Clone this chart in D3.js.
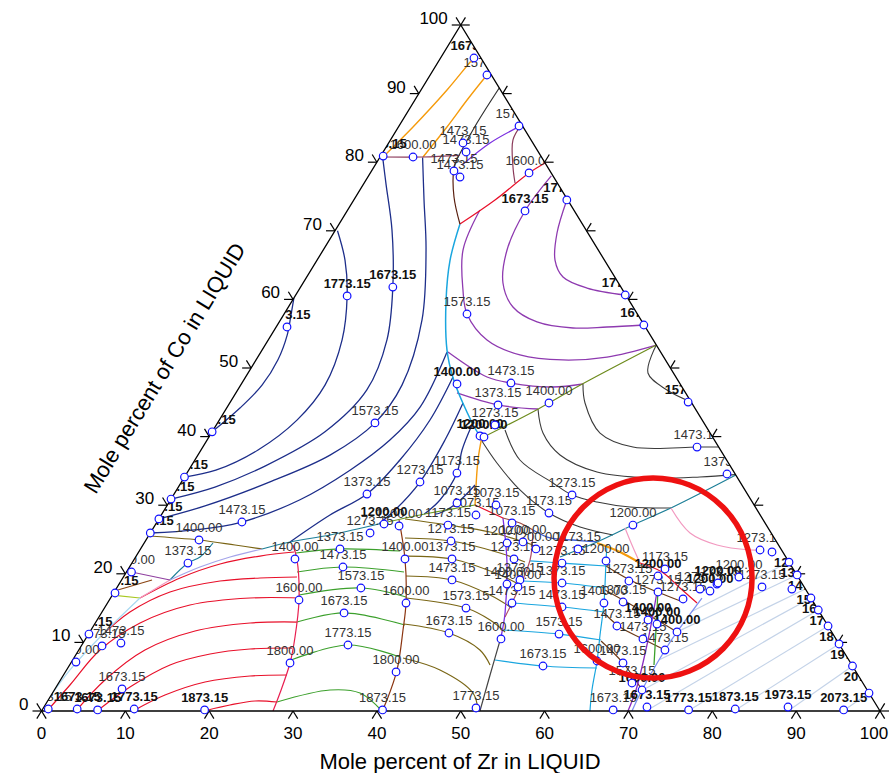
<!DOCTYPE html>
<html><head><meta charset="utf-8">
<script src="https://cdn.jsdelivr.net/npm/d3@7"></script>
<style>body{margin:0;background:#fff}svg{display:block;font-family:"Liberation Sans",Arial,sans-serif}</style>
</head><body>
<svg id="chart" width="890" height="773"></svg>
<script>
// Axis ticks (mole percent)
const zrTicks = d3.range(0, 101, 10);
const coTicks = d3.range(0, 101, 10);

// Liquidus isotherms and univariant lines; every point is [Zr %, Co %]
const navyIsotherms = [
  [[0,40.7],[1.6,44.2],[2.55,47.5],[2.6,51.2],[1.9,54.8],[0.9,57.7],[0,60.2]],
  [[0.3,70],[3.35,65.7],[6.2,60.5],[8.8,54.1],[10.06,47.5],[9.27,42.4],[6.8,38.05],[3.24,35.1],[0,34.1]],
  [[0.4,80.6],[2.75,76.7],[6.75,70.1],[11.0,61.8],[14.15,54.1],[15.4,46.8],[13.46,40.7],[8.8,35.7],[4.36,32.65],[0,30.9]],
  [[5.1,80.7],[8.37,74.5],[12.26,67.2],[16.88,57.0],[19.24,47.5],[18.77,42.0],[15.76,37.3],[10.55,33.4],[4.55,29.9],[0,28.0]],
  [[22.2,52.3],[23.0,44.3],[21.8,39.5],[19.24,35.1],[15.43,30.8],[10.13,27.55],[5.1,26.4],[0,25.95]],
  [[24.73,48.69],[25.12,42.42],[24.45,36.59],[23.0,31.63],[20.12,28.57],[17.32,24.64]],
  [[27.82,44.9],[28.37,39.5],[28.45,33.38],[27.51,29.3],[26.6,27.3]],
  [[30.49,41.69],[31.13,38.05],[32.2,34.69],[32.14,30.76],[31.3,28.7]],
  [[35.23,32.94],[34.39,30.32],[33.09,28.86],[32.6,28.7]]
];
const purpleIsotherms = [
  [[25.4,74.5],[26.64,69.68],[28.37,65.74],[30.56,63.27],[34.23,61.66],[39.3,60.64]],
  [[21.8,78.0],[21.22,72.89],[21.92,67.2],[23.84,62.39],[26.78,58.89],[30.74,56.71],[35.47,55.83],[39.45,55.98],[43.7,56.27]],
  [[15.77,73.03],[16.67,67.2],[19.58,61.37],[21.81,57.87],[26.09,54.08],[31.11,51.9],[36.6,51.17],[41.64,51.6],[46.65,53.35]],
  [[22.31,52.33],[28.79,48.69],[32.08,47.81],[37.38,47.23],[40.74,47.67]],
  [[26.37,46.36],[32.14,44.61],[37.2,44.02]]
];
const blackIsotherms = [
  [[40.74,47.67],[42.37,44.9],[46.35,40.52],[51.3,38.48],[58.94,38.48],[61.52,38.48]],
  [[46.65,53.35],[47.69,49.27],[51.2,46.79],[54.96,45.04]],
  [[37.2,44.02],[39.55,40.52],[43.18,37.32],[48.83,34.84],[55.59,33.97],[61.47,34.11],[65.5,34.45]],
  [[34.8,40.96],[38.76,36.59],[44.38,33.24],[47.53,31.49],[51.02,30.47],[55.31,29.74],[60.27,29.59]],
  [[32.7,39.5],[36.24,36.15],[40.95,32.22],[46.09,28.86],[50.81,26.82],[55.33,25.66]]
];
const redIsotherms = [
  [[3.51,16.47],[6.83,19.39],[10.58,21.43],[14.76,22.59],[18.52,23.18]],
  [[1.59,10.79],[3.33,14.43],[6.65,17.35],[11.81,18.95],[16.37,19.39],[20.7,19.53]],
  [[0.66,0],[1.5,3.79],[2.53,8.89],[5.34,12.83],[9.98,15.45],[16.63,16.47],[22.47,16.47]],
  [[4.11,0],[5.31,4.52],[7.89,8.89],[12.48,11.66],[18.46,12.83],[23.98,12.97]],
  [[6.62,0],[8.8,3.5],[11.97,6.71],[15.95,8.31],[20.35,9.04],[25.29,9.18]],
  [[10.91,0],[13.56,2.33],[17.39,4.23],[22.32,5.1],[26.66,5.25]],
  [[19.38,0],[22.04,0.87],[24.73,1.46],[27.43,1.31]]
];
const greenIsotherms = [
  [[18.83,23.03],[23.79,23.62],[31.09,23.32]],
  [[20.34,20.26],[25.46,20.99],[33.1,20.26]],
  [[22.25,16.91],[29.13,17.93],[35.16,16.62]],
  [[23.98,12.97],[28.94,14.29],[37.08,12.54]],
  [[26.04,7.43],[31.74,9.62],[38.81,7.87]],
  [[27.43,1.31],[32.88,3.06],[36.67,2.62],[40.6,0]]
];
const oliveBrownIsotherms = [
  [[29.36,27.99],[34.92,27.11],[40.44,26.09],[46.52,24.2]],
  [[30.74,25.22],[36.45,24.78],[43.16,23.03],[46.8,21.72]],
  [[32.05,22.59],[37.88,22.16],[44.77,19.83],[47.88,18.37]],
  [[33.63,19.68],[39.41,19.1],[45.03,16.91],[48.6,15.01]],
  [[35.23,16.47],[43.12,15.01],[46.86,13.27],[49.52,11.52]],
  [[36.89,12.68],[42.91,11.37],[47.84,8.89],[50.14,6.71]],
  [[39.25,7.73],[44.53,5.98],[50.15,2.62],[52.06,0]]
];
const cyanIsotherms = [
  [[47.33,21.87],[51.29,21.57],[56.75,21.14]],
  [[47.82,18.95],[52.75,18.66],[58.23,17.93]],
  [[48.24,15.74],[54.5,15.16],[59.86,14.43]],
  [[49.14,11.81],[56.11,11.22],[61.56,10.35]],
  [[50.36,7.43],[56.53,6.56],[63.12,6.27]]
];
const brownIsotherms = [
  [[56.75,21.14],[60.63,19.1],[65.16,17.2],[68.57,15.89]],
  [[58.38,17.64],[62.38,15.6],[66.77,13.27],[70.03,11.52]],
  [[59.94,14.29],[62.87,12.24],[66.48,10.5],[69.91,8.89]],
  [[61.63,10.2],[65.85,7.0],[70.09,3.06]]
];
const hatchIsotherms = [
  [[95.59,0],[97.38,2.62]],
  [[89.03,0],[93.44,6.56]],
  [[82.59,0],[90.23,9.77]],
  [[77.1,0],[87.61,12.39]],
  [[72.09,0],[85.28,14.72]],
  [[70.1,3],[83.53,16.47]],
  [[70.0,7.5],[82.2,17.78]],
  [[70.0,11.5],[80.17,19.83]],
  [[70.3,14.5],[78.28,21.72]]
];

// univariant (phase boundary) lines
const cyanBoundary = [[14.41,70.99],[15.87,65.7],[18.3,59.9],[22.06,52.6],[24.7,48.7],[27.8,44.9],[31.8,40.5],[32.6,39.8]];
const cyanBoundary2 = [[55.34,24.2],[56.39,21.87],[59.21,15.74],[61.07,11.08],[62.61,7.29],[64.12,3.06],[65.41,0]];
const oliveBoundary = [[32.6,39.8],[37.2,44.0],[40.7,47.7],[46.65,53.35]];
const orangeBoundary = [[32.6,39.8],[33.76,36.6],[36.69,30.03]];
const orangeTop1 = [[0.35,80.76],[1.74,85.13],[3.1,90.52],[3.89,94.9],[4.08,95.48]];
const orangeTop2 = [[5.12,80.76],[5.79,85.13],[6.22,89.07],[6.77,92.71],[6.85,93.15]];
const orangeInner = [[54.01,24.49],[57.4,23.18],[60.59,21.57]];
const blackTop = [[9.32,80.47],[9.08,85.71],[9.18,90.82]];
const violetTop = [[10.35,79.59],[12.09,82.8],[14.6,85.4]];
const maroonTop = [[0.35,80.76],[5.12,80.76],[9.4,81.0]];
const maroonRight = [[14.5,85.4],[14.61,83.24],[16.58,79.3],[17.99,76.97]];
const redTop = [[20.12,79.88],[18.93,78.43],[16.84,74.49],[14.41,70.99]];
const darkBrownTop = [[9.32,80.47],[9.61,79.15],[11.73,74.93],[14.41,70.99]];
const redMid = [[36.69,30.03],[40.97,28.13]];
const redInner = [[60.59,21.57],[63.87,20.26],[67.18,17.93],[70.31,15.74]];
const violetMid = [[40.97,28.13],[44.73,21.57],[48.14,14.29],[49.41,10.79]];
const violetInner = [[64.73,17.35],[67.16,10.35],[69.37,3.06],[69.94,0]];
const grayMid = [[49.41,10.79],[50.87,5.25],[52.29,0]];
const maroonMid = [[40.97,28.13],[43.36,27.41],[45.43,26.38]];
const blueMid = [[45.43,26.38],[48.03,25.22],[50.93,24.93],[53.93,24.64]];
const mauveMid = [[45.43,26.38],[47.26,22.01],[48.01,17.64],[48.43,13.7]];
const tealRight = [[65.6,34.4],[60.44,29.74],[56.98,27.11],[53.93,24.64],[51.51,23.03],[50.62,22.45]];
const pinkRight = [[60.27,29.59],[64.37,25.95],[68.46,24.2],[72.77,23.47],[73.96,23.47]];
const pinkInner = [[56.25,26.68],[58.32,24.2],[60.59,21.57]];
const greenInner = [[64.7,17.64],[67.38,11.81],[69.69,6.71]];
const lilacBoundary = [[70.53,16.47],[70.03,11.52],[69.92,8.89],[70.09,3.06],[70.42,0]];
const oliveGreenLow = [[27.03,27.41],[31.9,28.86],[36.69,30.03]];
const tealLow = [[14.49,23.62],[17.32,24.64],[21.58,25.66],[27.03,27.41]];
const oliveBrownLow = [[0,25.51],[6.32,24.93],[10.98,24.2],[14.49,23.62]];
const lavenderLow = [[14.49,23.62],[11.26,22.45],[8.4,20.99],[5.77,19.1]];
const tealLow2 = [[8.21,24.49],[7.68,22.45],[6.68,21.57],[5.77,19.1]];
const purpleLow = [[0.6,20.26],[5.77,19.1]];
const brownLow = [[0.2,17.6],[3.63,19.1]];
const limeLow = [[0,16.9],[3.51,16.47]];
const pinkLow = [[5.77,19.1],[3.51,16.47]];
const skyLow = [[3.51,16.47],[1.59,10.79],[0.41,5.98],[0,2.3]];
const crimsonBoundary = [[17.89,24.2],[19.47,22.01],[22.62,16.18],[24.84,10.79],[26.14,7.0],[27.13,2.62],[27.61,0]];
const brownBoundary = [[28.72,27.84],[32.27,22.16],[35.6,15.74],[37.21,11.81],[39.41,5.98],[40.4,1.6],[40.61,0]];

// isotherm labels: [Zr %, Co %, text]
const labels = [
  [6.77,92.71,"1573.15"],[14.31,85.28,"1573.15"],
  [8.87,82.8,"1473.15"],[9.89,81.49,"1473.15"],[9.83,78.72,"1473.15"],[10.99,77.84,"1473.15"],
  [3.93,80.76,"1600.00"],[18.93,78.43,"1600.00"],
  [21.81,57.87,"1573.15"],[32.08,47.81,"1473.15"],[32.14,44.61,"1373.15"],[38.07,44.9,"1400.00"],
  [33.23,41.69,"1273.15"],[58.94,38.48,"1473.15"],[64.48,34.55,"1373.15"],
  [18.77,42.0,"1573.15"],[10.13,27.55,"1473.15"],[23.0,31.63,"1373.15"],[28.45,33.38,"1273.15"],
  [32.2,34.69,"1173.15"],[34.39,30.32,"1073.15"],[39.19,30.03,"1073.15"],[37.53,28.57,"1073.15"],
  [42.41,27.41,"1073.15"],[34.92,27.11,"1173.15"],[36.45,24.78,"1273.15"],[37.88,22.16,"1373.15"],
  [39.41,19.1,"1473.15"],[43.12,15.01,"1573.15"],[42.91,11.37,"1673.15"],[51.6,0.44,"1773.15"],
  [19.15,22.16,"1400.00"],[22.62,16.18,"1600.00"],[26.14,7.0,"1800.00"],
  [32.27,22.16,"1400.00"],[35.6,15.74,"1600.00"],[39.44,5.69,"1800.00"],
  [23.79,23.62,"1373.15"],[25.46,20.99,"1473.15"],[29.13,17.93,"1573.15"],[28.94,14.29,"1673.15"],
  [31.74,9.62,"1773.15"],[40.6,0.15,"1873.15"],
  [26.21,25.95,"1273.15"],[29.16,26.97,"1200.00"],[6.32,24.93,"1400.00"],[6.68,21.57,"1373.15"],
  [0.6,20.26,"1400.00"],[2.48,9.48,"1573.15"],[4.52,9.91,"1473.15"],[0.54,7.14,"1400.00"],
  [8.0,3.21,"1673.15"],[0.66,0.29,"1573.15"],
  [43.28,24.49,"1200.00"],[45.1,24.64,"1200.00"],[45.27,22.16,"1273.15"],[47.51,19.1,"1373.15"],
  [46.26,18.51,"1400.00"],[47.79,18.08,"1400.00"],[48.24,15.74,"1473.15"],[49.55,10.5,"1600.00"],
  [51.29,21.57,"1273.15"],[52.75,18.66,"1373.15"],[54.5,15.16,"1473.15"],[56.11,11.22,"1573.15"],
  [56.53,6.56,"1673.15"],[56.98,27.11,"1200.00"],[47.53,31.49,"1273.15"],[46.09,28.86,"1173.15"],
  [47.16,23.62,"1200.00"],[52.17,23.62,"1173.15"],[56.39,21.87,"1200.00"],[60.58,18.95,"1273.15"],
  [64.01,20.7,"1173.15"],[64.85,17.35,"1273.15"],[68.35,16.33,"1273.15"],
  [69.64,17.78,"1273.15"],[71.3,18.51,"1173.15"],[73.41,19.53,"1200.00"],[76.89,18.08,"1273.15"],
  [59.21,15.74,"1400.00"],[61.41,15.89,"1373.15"],[62.43,12.39,"1473.15"],[66.48,10.5,"1473.15"],
  [69.91,8.89,"1473.15"],[62.61,7.29,"1600.00"],[65.85,7.0,"1473.15"],[68.38,4.08,"1573.15"],
  [68.1,0.15,"1673.15"],[73.96,23.47,"1273.15"]
];
const boldLabels = [
  [3.98,95.19,"1673.15"],[1.29,55.98,"1873.15"],
  [6.2,60.5,"1773.15"],[11.0,61.8,"1673.15"],[21.22,72.89,"1673.15"],[25.72,47.67,"1400.00"],
  [25.4,74.5,"1773.15"],[39.3,60.64,"1773.15"],[43.7,56.27,"1673.15"],
  [32.25,40.09,"1200.00"],[32.8,39.94,"1200.00"],[27.22,27.26,"1200.00"],[54.6,45.04,"1573.15"],
  [0,40.7,"1873.15"],[0,34.1,"1773.15"],[0,30.9,"1673.15"],[0,28.0,"1573.15"],[0,25.95,"1473.15"],
  [0.17,17.2,"1473.15"],[0.05,11.22,"1573.15"],[0.3,80.9,"1673.15"],
  [4.11,0.29,"1673.15"],[6.62,0.15,"1673.15"],[10.91,0.29,"1773.15"],[19.38,0.15,"1873.15"],
  [63.68,19.68,"1200.00"],[70.98,17.49,"1200.00"],[71.35,18.66,"1200.00"],
  [65.7,13.27,"1400.00"],[67.06,12.68,"1400.00"],[70.03,11.52,"1400.00"],[70.09,3.06,"1600.00"],
  [71.92,0.58,"1673.15"],[77.1,0.15,"1773.15"],[82.59,0.29,"1873.15"],[88.74,0.58,"1973.15"],
  [95.59,0.15,"2073.15"]
];
// markers on the Zr-Co edge, labelled just below and inside the edge
const edgeLabels = [
  [93.44,6.56,"2073.15"],[90.23,9.77,"1973.15"],[87.61,12.39,"1873.15"],
  [85.28,14.72,"1773.15"],[83.53,16.47,"1673.15"],[80.6,17.78,"1573.15"],[80.2,19.83,"1473.15"],
  [78.3,21.7,"1373.15"],[75.53,23.18,"1273.15"]
];
const edgeMarkers = [[97.38,2.62]];

const svg = d3.select("#chart");
const x = d3.scaleLinear().domain([0, 100]).range([41.5, 880]);
const y = d3.scaleLinear().domain([0, 100]).range([711, 25]);
const proj = ([zr, co]) => [x(zr + co / 2), y(co)];

const A = proj([0, 0]), B = proj([100, 0]), C = proj([0, 100]);
svg.append("defs").append("clipPath").attr("id", "tri")
  .append("path").attr("d", "M" + [A, B, C].join("L") + "Z");

const plot = svg.append("g").attr("clip-path", "url(#tri)");
const line = d3.line().x(d => proj(d)[0]).y(d => proj(d)[1]).curve(d3.curveCatmullRom.alpha(0.5));

function draw(data, color, w) {
  plot.append("g").selectAll("path").data(data).join("path")
    .attr("d", line).attr("fill", "none").attr("stroke", color)
    .attr("stroke-width", w || 1.2).attr("stroke-linejoin", "round");
}
draw(hatchIsotherms, "#c4d3e8", 1.2);
draw(navyIsotherms, "#1d2e8a", 1.3);
draw(purpleIsotherms, "#8e3ab0", 1.3);
draw(blackIsotherms, "#3a3a3a", 1.1);
draw(redIsotherms, "#e8102a", 1.2);
draw(greenIsotherms, "#3ca02c", 1.2);
draw(oliveBrownIsotherms, "#7a6615", 1.2);
draw(cyanIsotherms, "#1aa6df", 1.2);
draw(brownIsotherms, "#6b3a18", 1.2);
draw([cyanBoundary], "#1aa6df", 1.5);
draw([cyanBoundary2], "#1aa6df", 1.2);
draw([oliveBoundary], "#6e8c1e", 1.2);
draw([orangeBoundary, orangeTop1, orangeTop2], "#f59b0c", 1.4);
draw([orangeInner], "#f59b0c", 2.2);
draw([blackTop], "#333", 1.2);
draw([violetTop, violetMid], "#7b2fe0", 1.3);
draw([violetInner], "#8a2cc0", 1.3);
draw([maroonTop, maroonRight], "#8b3a5a", 1.2);
draw([redTop, redMid, redInner], "#e8102a", 1.2);
draw([darkBrownTop], "#5a2010", 1.2);
draw([grayMid], "#444", 1.2);
draw([maroonMid], "#9c4a40", 1.2);
draw([blueMid], "#3a5ad0", 1.3);
draw([mauveMid], "#b0506a", 1.2);
draw([tealRight, tealLow, tealLow2], "#1d7f98", 1.2);
draw([pinkRight, pinkInner, pinkLow], "#f29ac0", 1.2);
draw([greenInner], "#3ca02c", 1.3);
draw([lilacBoundary], "#7d8ff0", 1.3);
draw([oliveGreenLow], "#6f9a20", 1.2);
draw([oliveBrownLow], "#7a6415", 1.2);
draw([lavenderLow], "#a4a4ea", 1.2);
draw([purpleLow], "#9040a0", 1.2);
draw([brownLow], "#8b4513", 1.2);
draw([limeLow], "#a8c820", 1.2);
draw([skyLow], "#a8d8f0", 1.2);
draw([crimsonBoundary], "#e81e50", 1.2);
draw([brownBoundary], "#8b3510", 1.2);

// triangle frame
svg.append("path").attr("d", "M" + [A, B, C].join("L") + "Z")
  .attr("fill", "none").attr("stroke", "#000").attr("stroke-width", 1.3);

// tick arms run outward, parallel to the two other edges
const ang = Math.atan2(A[1] - C[1], C[0] - A[0]);
const L = 9;
const dir = a => [Math.cos(a) * L, -Math.sin(a) * L];
const dLeft = dir(Math.PI), dRight = dir(0);
const dUpLeft = dir(Math.PI - ang), dUpRight = dir(ang);
const dDownLeft = dir(Math.PI + ang), dDownRight = dir(-ang);
const ticks = svg.append("g").attr("stroke", "#000").attr("stroke-width", 1.2);
function arm(p, d) { ticks.append("line").attr("x1", p[0]).attr("y1", p[1]).attr("x2", p[0] + d[0]).attr("y2", p[1] + d[1]); }
zrTicks.forEach(t => { const p = proj([t, 0]); arm(p, dDownLeft); arm(p, dDownRight); });
coTicks.forEach(t => { const p = proj([0, t]); arm(p, dLeft); arm(p, dUpLeft); });
coTicks.forEach(t => { const p = proj([100 - t, t]); arm(p, dRight); arm(p, dUpRight); });

// tick labels
svg.append("g").selectAll("text").data(zrTicks).join("text")
  .attr("x", t => proj([t, 0])[0] - (t === 100 ? 6 : 0)).attr("y", t => proj([t, 0])[1] + 28)
  .attr("text-anchor", "middle").attr("font-size", 17).text(t => t);
svg.append("g").selectAll("text").data(coTicks).join("text")
  .attr("x", t => proj([0, t])[0] - 13).attr("y", t => proj([0, t])[1] - 1)
  .attr("text-anchor", "end").attr("font-size", 17).text(t => t);

// axis titles
svg.append("text").attr("x", 460).attr("y", 769).attr("text-anchor", "middle")
  .attr("font-size", 22).text("Mole percent of Zr in LIQUID");
svg.append("text").attr("transform", `translate(171,372) rotate(${-ang * 180 / Math.PI})`)
  .attr("text-anchor", "middle").attr("font-size", 22).text("Mole percent of Co in LIQUID");

// isotherm labels, clipped to the diagram like the curves
const lab = plot.append("g").attr("font-size", 13).attr("fill", "#333");
lab.selectAll("text.n").data(labels).join("text").attr("class", "n")
  .attr("x", d => proj(d)[0]).attr("y", d => proj(d)[1] - 8)
  .attr("text-anchor", "middle").text(d => d[2]);
lab.selectAll("text.b").data(boldLabels).join("text").attr("class", "b")
  .attr("x", d => proj(d)[0]).attr("y", d => proj(d)[1] - 8)
  .attr("text-anchor", "middle").attr("font-weight", "bold").attr("fill", "#111").text(d => d[2]);
// edge labels start a little inside the right edge at their baseline
const edgeX = py => x(100 - y.invert(py) / 2);
lab.selectAll("text.e").data(edgeLabels).join("text").attr("class", "e")
  .attr("x", d => edgeX(proj(d)[1] + 15) - 18).attr("y", d => proj(d)[1] + 15)
  .attr("font-weight", "bold").attr("fill", "#111").text(d => d[2]);

// label markers
svg.append("g").selectAll("circle").data(labels.concat(boldLabels, edgeLabels, edgeMarkers)).join("circle")
  .attr("cx", d => proj(d)[0]).attr("cy", d => proj(d)[1]).attr("r", 3.8)
  .attr("fill", "#fff").attr("stroke", "#1010ff").attr("stroke-width", 1.2);

// highlighted region
const hc = proj([63.24, 19.39]);
svg.append("ellipse").attr("cx", hc[0]).attr("cy", hc[1])
  .attr("rx", 99).attr("ry", 100).attr("fill", "none").attr("stroke", "#ee1111").attr("stroke-width", 5.5);
</script>
</body></html>
